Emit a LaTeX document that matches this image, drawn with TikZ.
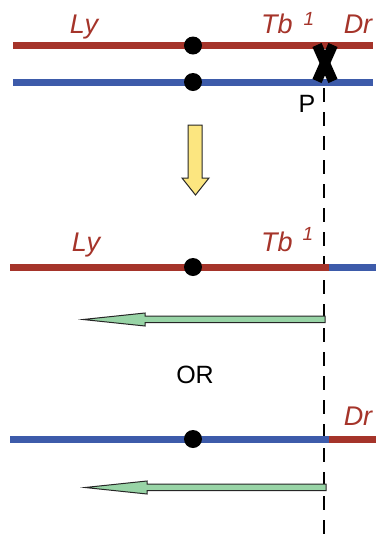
\documentclass[tikz,border=0pt]{standalone}
\usepackage{fontspec}
\setmainfont{Liberation Sans}
\definecolor{chrred}{HTML}{A5342A}
\definecolor{chrblue}{HTML}{3D5BAA}
\definecolor{arrowyellow}{HTML}{FCE680}
\definecolor{arrowgreen}{HTML}{98D4A6}
\begin{document}
\begin{tikzpicture}[x=1pt,y=-1pt,
  chrom/.style={line width=7pt},
  centro/.style={circle,fill=black,inner sep=0pt,minimum size=18pt},
  gene/.style={text=chrred,font=\itshape\fontsize{27}{27}\selectfont,anchor=base,inner sep=0pt},
  supone/.style={text=chrred,font=\itshape\fontsize{19}{19}\selectfont,anchor=base,inner sep=0pt},
  plain/.style={text=black,font=\fontsize{25}{25}\selectfont,anchor=base,inner sep=0pt},
  greenarrow/.style={fill=arrowgreen,draw=black!85,line width=1pt,line join=miter},
]
\useasboundingbox (0,0) rectangle (376,542);
% row 1
\draw[chrom,chrred] (13,45.5) -- (373,45.5);
\draw[chrom,chrblue] (13,82) -- (373,82);
\node[centro] (c1) at (193,45.5) {};
\node[centro] (c2) at (193,82) {};
\node[gene] (ly1) at (84,33) {Ly};
\node[gene] (tb1) at (277,33) {Tb};
\node[supone] (s1) at (309,25) {1};
\node[gene] (dr1) at (358,33) {Dr};
% crossover X
\draw[line width=10pt,black] (317,45) -- (333,81);
\draw[line width=10pt,black] (333,45) -- (317,81);
\node[plain] (p) at (307,112) {P};
% dashed line
\coordinate (dtop) at (324,88);
\coordinate (dbot) at (324,542);
\draw[line width=2.6pt,dash pattern=on 14pt off 10pt] (dtop) -- (dbot);
% yellow arrow
\draw[fill=arrowyellow,draw=black!85,line width=1pt]
  (188,125) -- (202,125) -- (202,178) -- (209,178) -- (195.5,195) -- (182,178) -- (188,178) -- cycle;
% row 2
\draw[chrom,chrred] (10,267) -- (329,267);
\draw[chrom,chrblue] (329,267) -- (376,267);
\node[centro] (c3) at (193,267) {};
\node[gene] (ly2) at (86,251) {Ly};
\node[gene] (tb2) at (277,251) {Tb};
\node[supone] (s2) at (308,240) {1};
% green arrow 1
\draw[greenarrow] (325,316) -- (145,316) -- (145,313) -- (83,319.5) -- (145,326) -- (145,322.5) -- (325,322.5) -- cycle;
\node[plain] (or) at (195,383) {OR};
% row 3
\draw[chrom,chrblue] (10,439) -- (329,439);
\draw[chrom,chrred] (329,439) -- (376,439);
\node[centro] (c4) at (193,439) {};
\node[gene] (dr3) at (358,425) {Dr};
% green arrow 2
\draw[greenarrow] (326,484) -- (147,484) -- (147,481) -- (85,487.5) -- (147,494) -- (147,490.5) -- (326,490.5) -- cycle;
\end{tikzpicture}
\end{document}
